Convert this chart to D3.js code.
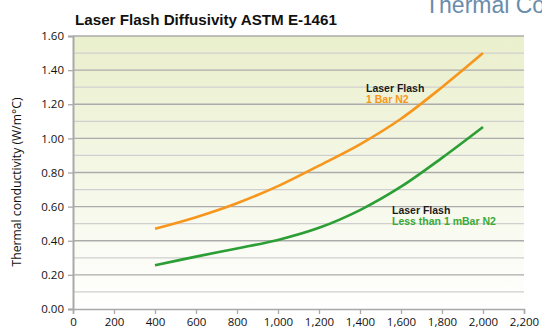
<!DOCTYPE html>
<html>
<head>
<meta charset="utf-8">
<script src="https://cdn.jsdelivr.net/npm/d3@7"></script>
<style>
  html, body { margin: 0; padding: 0; background: #fff; }
  svg { display: block; }
</style>
</head>
<body>
<svg id="chart" width="542" height="331"></svg>
<script>
const temperatures = [400, 600, 800, 1000, 1200, 1400, 1600, 1800, 2000];
const bar1N2 = [0.47, 0.538, 0.62, 0.72, 0.84, 0.965, 1.115, 1.30, 1.50];
const lessThan1mBar = [0.256, 0.307, 0.355, 0.405, 0.476, 0.58, 0.717, 0.886, 1.067];
const xTicks = [0, 200, 400, 600, 800, 1000, 1200, 1400, 1600, 1800, 2000, 2200];
const yTicks = [0, 0.2, 0.4, 0.6, 0.8, 1.0, 1.2, 1.4, 1.6];
const yMinor = [0.1, 0.3, 0.5, 0.7, 0.9, 1.1, 1.3, 1.5];

const svg = d3.select("#chart");
const L = 73, R = 524, T = 36, B = 309;
const x = d3.scaleLinear().domain([0, 2200]).range([L, R]);
const y = d3.scaleLinear().domain([0, 1.6]).range([B, T]);

const defs = svg.append("defs");
const grad = defs.append("linearGradient").attr("id", "bg").attr("x1", 0).attr("y1", 0).attr("x2", 0).attr("y2", 1);
grad.append("stop").attr("offset", "0%").attr("stop-color", "#eaefcc");
grad.append("stop").attr("offset", "100%").attr("stop-color", "#ffffff");

svg.append("rect").attr("x", L).attr("y", T).attr("width", R - L).attr("height", B - T).attr("fill", "url(#bg)");

// minor gridlines
svg.append("g").selectAll("line").data(yMinor).join("line")
  .attr("x1", L).attr("x2", R).attr("y1", d => y(d)).attr("y2", d => y(d))
  .attr("stroke", "#cfcfcf").attr("stroke-width", 1.3);
// major gridlines
svg.append("g").selectAll("line").data(yTicks.filter(d => d > 0)).join("line")
  .attr("x1", L).attr("x2", R).attr("y1", d => y(d)).attr("y2", d => y(d))
  .attr("stroke", "#ababab").attr("stroke-width", 1.3);

// axes
const yAxis = d3.axisLeft(y).tickValues(yTicks).tickFormat(d3.format(".2f")).tickSize(5).tickPadding(4);
const gy = svg.append("g").attr("transform", `translate(${L},0)`).call(yAxis);
gy.select(".domain").attr("stroke", "#a9a9a9").attr("stroke-width", 2);
gy.selectAll(".tick line").attr("stroke", "#a9a9a9").attr("stroke-width", 1.3);
gy.selectAll("text").attr("font-family", "'Open Sans', sans-serif").attr("font-size", 11.5).attr("fill", "#111");

const xAxis = d3.axisBottom(x).tickValues(xTicks).tickFormat(d3.format(",")).tickSize(5).tickPadding(4);
const gx = svg.append("g").attr("transform", `translate(0,${B})`).call(xAxis);
gx.select(".domain").attr("stroke", "#a9a9a9").attr("stroke-width", 1.5);
gx.selectAll(".tick line").attr("stroke", "#a9a9a9").attr("stroke-width", 1.3);
gx.selectAll("text").attr("font-family", "'Open Sans', sans-serif").attr("font-size", 11.5).attr("fill", "#111");

// lines
const line = d3.line().x(d => x(d[0])).y(d => y(d[1])).curve(d3.curveCatmullRom.alpha(0.5));
svg.append("path").datum(temperatures.map((t, i) => [t, bar1N2[i]]))
  .attr("d", line).attr("fill", "none").attr("stroke", "#f7961c").attr("stroke-width", 2.6);
svg.append("path").datum(temperatures.map((t, i) => [t, lessThan1mBar[i]]))
  .attr("d", line).attr("fill", "none").attr("stroke", "#2b9e35").attr("stroke-width", 2.6);

// series labels
const lab = svg.append("g").attr("font-family", "'Liberation Sans', Arial, sans-serif").attr("font-weight", "bold").attr("font-size", 10.5);
lab.append("text").attr("x", 366).attr("y", 92).attr("fill", "#1a1a1a").text("Laser Flash");
lab.append("text").attr("x", 366).attr("y", 103).attr("fill", "#f7961c").text("1 Bar N2");
lab.append("text").attr("x", 392).attr("y", 214).attr("fill", "#1a1a1a").text("Laser Flash");
lab.append("text").attr("x", 392).attr("y", 225).attr("fill", "#3aaa3a").text("Less than 1 mBar N2");

// title
svg.append("text").attr("x", 75).attr("y", 25)
  .attr("font-family", "'Liberation Sans', Arial, sans-serif").attr("font-weight", "bold").attr("font-size", 15.2)
  .attr("fill", "#111").text("Laser Flash Diffusivity ASTM E-1461");

// cut-off header (cropped in the original too)
svg.append("text").attr("x", 425).attr("y", 13)
  .attr("font-family", "'Liberation Sans', Arial, sans-serif").attr("font-size", 23)
  .attr("fill", "#6a8cab").text("Thermal Co");

// y axis label
svg.append("text").attr("transform", "translate(21,182) rotate(-90)").attr("text-anchor", "middle")
  .attr("font-family", "'Open Sans', sans-serif").attr("font-size", 12.2).attr("fill", "#111")
  .text("Thermal conductivity (W/m°C)");
</script>
</body>
</html>
